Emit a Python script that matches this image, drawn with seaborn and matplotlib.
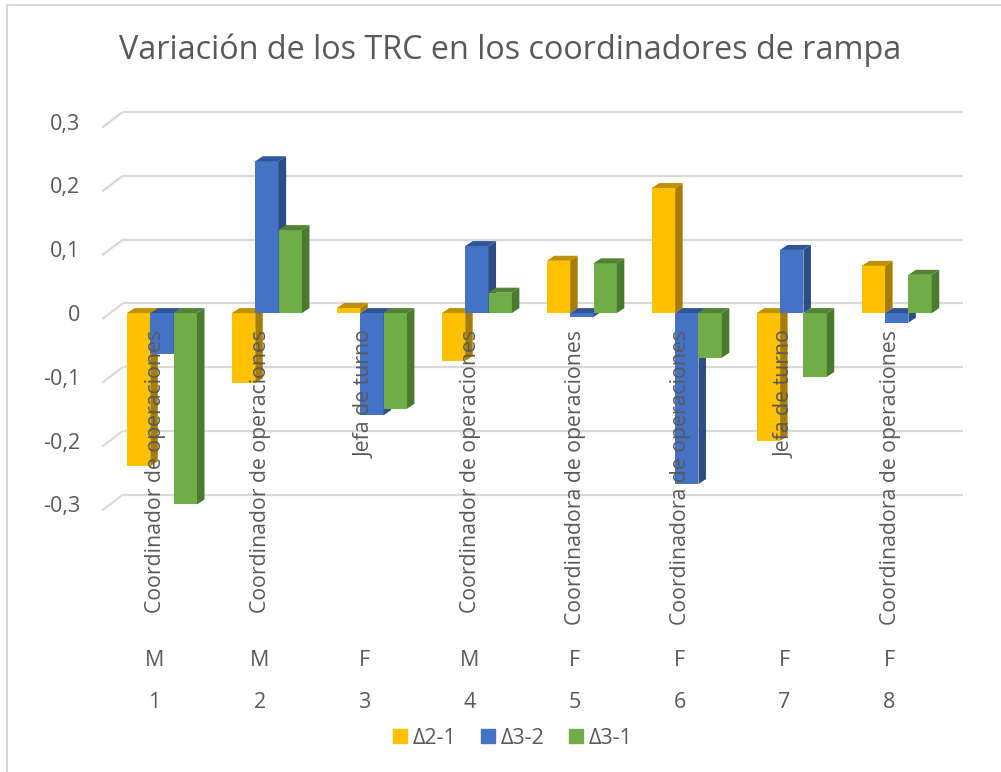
import numpy as np
import pandas as pd
import matplotlib
matplotlib.use("Agg")
import matplotlib.pyplot as plt
import matplotlib.transforms as mtransforms
from matplotlib.patches import Polygon
from matplotlib.lines import Line2D
import seaborn as sns

# data
participants = ["1", "2", "3", "4", "5", "6", "7", "8"]
genders = ["M", "M", "F", "M", "F", "F", "F", "F"]
roles = ["Coordinador de operaciones", "Coordinador de operaciones", "Jefa de turno",
         "Coordinador de operaciones", "Coordinadora de operaciones",
         "Coordinadora de operaciones", "Jefa de turno", "Coordinadora de operaciones"]
series_names = ["Δ2-1", "Δ3-2", "Δ3-1"]
delta_21 = [-0.24, -0.11, 0.008, -0.075, 0.082, 0.196, -0.20, 0.074]
delta_32 = [-0.064, 0.238, -0.16, 0.105, -0.006, -0.268, 0.099, -0.015]
delta_31 = [-0.30, 0.13, -0.15, 0.032, 0.078, -0.07, -0.10, 0.06]
ytick_vals = [-0.3, -0.2, -0.1, 0, 0.1, 0.2, 0.3]
ytick_labels = ["-0,3", "-0,2", "-0,1", "0", "0,1", "0,2", "0,3"]

front_colors = ["#FFC000", "#4472C4", "#70AD47"]
side_colors = ["#A67D00", "#2E4D87", "#4A7A2E"]
top_colors = ["#BF9000", "#2F5597", "#548235"]
text_color = "#595959"
grid_color = "#D9D9D9"

df = pd.DataFrame({"participant": participants * 3,
                   "serie": np.repeat(series_names, len(participants)),
                   "valor": delta_21 + delta_32 + delta_31})

sns.set_theme(style="white")
plt.rcParams["font.family"] = ["Open Sans", "DejaVu Sans"]

W, H = 1001, 772
fig = plt.figure(figsize=(W / 100, H / 100), dpi=100)
ax = fig.add_axes([0.101, 0.330, 0.863, 0.5289])

sns.barplot(data=df, x="participant", y="valor", hue="serie", order=participants,
            hue_order=series_names, palette=front_colors, width=0.667,
            saturation=1, linewidth=0, legend=False, ax=ax)

ax.set_xlim(-0.58, 7.65)
ax.set_ylim(-0.32, 0.32)
ax.set_xlabel("")
ax.set_ylabel("")
for s in ax.spines.values():
    s.set_visible(False)
ax.set_xticks([])
ax.set_yticks(ytick_vals)
ax.set_yticklabels(ytick_labels, fontsize=15.5, color=text_color)
ax.tick_params(axis="y", length=0, pad=15)

# pixel -> data conversions (fixed scales)
px_x = 1 / 105.0
px_y = 0.1 / 63.8

# back wall gridlines and floor diagonals
wall_dy = 9.7 * px_y
for v in ytick_vals:
    ax.plot([-0.571, -0.374], [v - 6 * px_y, v + wall_dy],
            color=grid_color, lw=1.6, zorder=0, solid_capstyle="butt")
    ax.plot([-0.374, 7.63], [v + wall_dy, v + wall_dy],
            color=grid_color, lw=1.6, zorder=0, solid_capstyle="butt")

# 3D faces on every bar, drawn left to right so neighbours overlap correctly
dx = 7.5 * px_x
dy = 5 * px_y
bars = list(ax.patches)
n = len(participants)
for k, bar in enumerate(bars):
    hue_i = k // n
    x0 = bar.get_x()
    x1 = x0 + bar.get_width()
    yb = min(bar.get_y(), bar.get_y() + bar.get_height())
    yt = max(bar.get_y(), bar.get_y() + bar.get_height())
    z = 2 + x0
    bar.set_zorder(z)
    side = Polygon([(x1, yb), (x1, yt), (x1 + dx, yt + dy), (x1 + dx, yb + dy)],
                   closed=True, facecolor=side_colors[hue_i], edgecolor="none", zorder=z)
    top = Polygon([(x0, yt), (x1, yt), (x1 + dx, yt + dy), (x0 + dx, yt + dy)],
                  closed=True, facecolor=top_colors[hue_i], edgecolor="none", zorder=z)
    ax.add_patch(side)
    ax.add_patch(top)

# category labels (three rows)
trans = mtransforms.blended_transform_factory(ax.transData, fig.transFigure)
for i in range(n):
    ax.text(i - 0.06, (H - 330) / H, roles[i], rotation=90, ha="center", va="top",
            fontsize=15.3, color=text_color, transform=trans, clip_on=False, zorder=20)
    ax.text(i - 0.07, (H - 660) / H, genders[i], ha="center", va="center",
            fontsize=15.5, color=text_color, transform=trans, clip_on=False)
    ax.text(i - 0.07, (H - 703) / H, participants[i], ha="center", va="center",
            fontsize=15.5, color=text_color, transform=trans, clip_on=False)

fig.text(0.510, (H - 50) / H, "Variación de los TRC en los coordinadores de rampa",
         ha="center", va="center", fontsize=23.3, color=text_color)

handles = [Line2D([], [], marker="s", linestyle="none", markersize=10,
                  markerfacecolor=c, markeredgecolor=c) for c in front_colors]
fig.legend(handles, series_names, loc="center", bbox_to_anchor=(0.512, (H - 738) / H),
           ncol=3, frameon=False, fontsize=15.5, labelcolor=text_color,
           handlelength=0.7, handletextpad=0.25, columnspacing=1.1)

# chart border (left and top edges visible in the reference)
fig.add_artist(Line2D([7 / W, 7 / W], [0, (H - 5) / H], color=grid_color, lw=1.5))
fig.add_artist(Line2D([7 / W, 1], [(H - 5) / H, (H - 5) / H], color=grid_color, lw=1.5))

fig.savefig("out.png", dpi=100)
